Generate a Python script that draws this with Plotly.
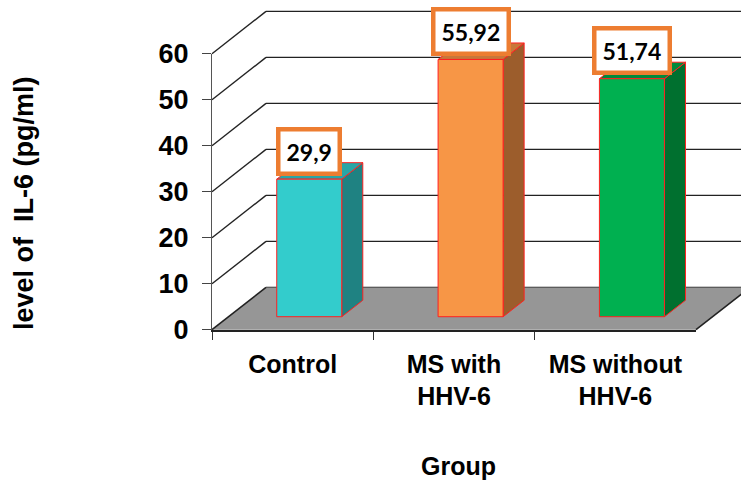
import plotly.graph_objects as go

# Data
categories = ["Control", "MS with<br>HHV-6", "MS without<br>HHV-6"]
values = [29.9, 55.92, 51.74]
y_ticks = [0, 10, 20, 30, 40, 50, 60]

# Styling
front_colors = ["#33CCCC", "#F79646", "#00B050"]
side_colors = ["#1F8282", "#9C5D2C", "#00702F"]
top_colors = ["#29A6A6", "#C8773A", "#008A3C"]
edge_color = "#FF2020"
grid_color = "#222222"
floor_color = "#969696"
label_border = "#ED7D31"
font_main = "Liberation Sans, Arial, sans-serif"
font_label = "Lato, Open Sans, sans-serif"

# Figure geometry (pixels) and 3-D projection parameters (in axis units)
W_PX, H_PX = 741, 480
AX_LEFT_PX, AX_RIGHT_PX = 212, 696      # front plane, category axis
Y0_PX, Y60_PX = 329.7, 53.7              # front plane, value axis
CAT_PX = (AX_RIGHT_PX - AX_LEFT_PX) / 3
VAL_PX = (Y0_PX - Y60_PX) / 60

DX = 54 / CAT_PX          # depth offset along x (category units)
DY = 42.3 / VAL_PX        # depth offset along y (value units)
BAR_START = 0.307         # bar front as fraction of depth
BAR_DEPTH = 0.39          # bar thickness as fraction of depth
BAR_W = 65 / CAT_PX       # bar width (category units)

SHIFT_X = BAR_START * DX
SHIFT_Y = BAR_START * DY
BDX = BAR_DEPTH * DX
BDY = BAR_DEPTH * DY

# Full-figure axis ranges sharing the same units as the front axes
x_rng = [-0.5 - AX_LEFT_PX / CAT_PX, -0.5 + (W_PX - AX_LEFT_PX) / CAT_PX]
y_rng = [-(H_PX - Y0_PX) / VAL_PX, Y0_PX / VAL_PX]

fig = go.Figure()

x_left = -0.5
x_right = 2.5
x_far = x_rng[1] + 0.2

# Back wall gridlines
for t in y_ticks:
    fig.add_trace(go.Scatter(
        x=[x_left + DX, x_far], y=[t + DY, t + DY], mode="lines",
        line=dict(color=grid_color, width=1.4), hoverinfo="skip",
        showlegend=False, xaxis="x", yaxis="y"))

# Side wall diagonals
for t in y_ticks[1:]:
    fig.add_trace(go.Scatter(
        x=[x_left, x_left + DX], y=[t, t + DY], mode="lines",
        line=dict(color=grid_color, width=1.4), hoverinfo="skip",
        showlegend=False, xaxis="x", yaxis="y"))

# Floor
fig.add_trace(go.Scatter(
    x=[x_left, x_right, x_right + DX, x_left + DX, x_left],
    y=[0, 0, DY, DY, 0], mode="lines", fill="toself",
    fillcolor=floor_color, line=dict(width=0, color=floor_color),
    hoverinfo="skip", showlegend=False, xaxis="x", yaxis="y"))
for xa in (x_left, x_right):
    fig.add_trace(go.Scatter(
        x=[xa, xa + DX], y=[0, DY], mode="lines",
        line=dict(color="#222222", width=1.6), hoverinfo="skip",
        showlegend=False, xaxis="x", yaxis="y"))

# Side and top faces of each bar
for i, v in enumerate(values):
    x0 = i + SHIFT_X - BAR_W / 2
    x1 = i + SHIFT_X + BAR_W / 2
    y0 = SHIFT_Y
    y1 = SHIFT_Y + v
    fig.add_trace(go.Scatter(
        x=[x1, x1 + BDX, x1 + BDX, x1, x1],
        y=[y0, y0 + BDY, y1 + BDY, y1, y0],
        mode="lines", fill="toself", fillcolor=side_colors[i],
        line=dict(color=edge_color, width=1), hoverinfo="skip",
        showlegend=False, xaxis="x", yaxis="y"))
    fig.add_trace(go.Scatter(
        x=[x0, x1, x1 + BDX, x0 + BDX, x0],
        y=[y1, y1, y1 + BDY, y1 + BDY, y1],
        mode="lines", fill="toself", fillcolor=top_colors[i],
        line=dict(color=edge_color, width=1), hoverinfo="skip",
        showlegend=False, xaxis="x", yaxis="y"))

# Front faces of the bars on the category axes
fig.add_trace(go.Bar(
    x=categories, y=values, base=SHIFT_Y,
    width=BAR_W, offset=SHIFT_X - BAR_W / 2,
    marker=dict(color=front_colors, line=dict(color=edge_color, width=1)),
    hoverinfo="skip", showlegend=False, xaxis="x2", yaxis="y2"))

# Value labels
for i, v in enumerate(values):
    fig.add_annotation(
        x=i + SHIFT_X, y=SHIFT_Y + v, xref="x", yref="y",
        text=f"<b>{str(v).replace('.', ',')}</b>", showarrow=False,
        xanchor="center", yanchor="middle", yshift=28,
        font=dict(family=font_label, size=23, color="black"),
        bgcolor="white", bordercolor=label_border, borderwidth=4.5,
        borderpad=6)

# Axis titles
fig.add_annotation(
    x=24 / W_PX, y=(H_PX - 203) / H_PX, xref="paper", yref="paper",
    text="<b>level of\u00a0\u00a0IL-6 (pg/ml)</b>", textangle=-90,
    showarrow=False, xanchor="center", yanchor="middle",
    font=dict(family=font_main, size=27, color="black"))
fig.add_annotation(
    x=459 / W_PX, y=(H_PX - 466) / H_PX, xref="paper", yref="paper",
    text="<b>Group</b>", showarrow=False, xanchor="center", yanchor="middle",
    font=dict(family=font_main, size=25, color="black"))

fig.update_layout(
    width=W_PX, height=H_PX,
    margin=dict(l=0, r=0, t=0, b=0, pad=0, autoexpand=False),
    paper_bgcolor="white", plot_bgcolor="rgba(0,0,0,0)",
    xaxis=dict(domain=[0, 1], range=x_rng, visible=False, fixedrange=True,
               automargin=False),
    yaxis=dict(domain=[0, 1], range=y_rng, visible=False, fixedrange=True,
               automargin=False),
    xaxis2=dict(
        domain=[AX_LEFT_PX / W_PX, AX_RIGHT_PX / W_PX], anchor="y2",
        type="category", range=[-0.5, 2.5], tickson="boundaries",
        ticks="outside", ticklen=8, tickwidth=1.2, tickcolor="#333333",
        showline=True, linecolor="#222222", linewidth=2.2, showgrid=False,
        ticklabelstandoff=11, automargin=False,
        tickfont=dict(family=font_main, size=25, color="black", weight="bold")),
    yaxis2=dict(
        domain=[(H_PX - Y0_PX) / H_PX, (H_PX - Y60_PX) / H_PX], anchor="x2",
        range=[0, 60], tickvals=y_ticks, ticks="outside", ticklen=9,
        tickwidth=1.2, tickcolor="#444444", showline=True,
        linecolor="#555555", linewidth=1.2, showgrid=False, zeroline=False,
        ticklabelstandoff=8, automargin=False,
        tickfont=dict(family=font_main, size=27, color="black", weight="bold")),
)

fig.write_html("out.html")
